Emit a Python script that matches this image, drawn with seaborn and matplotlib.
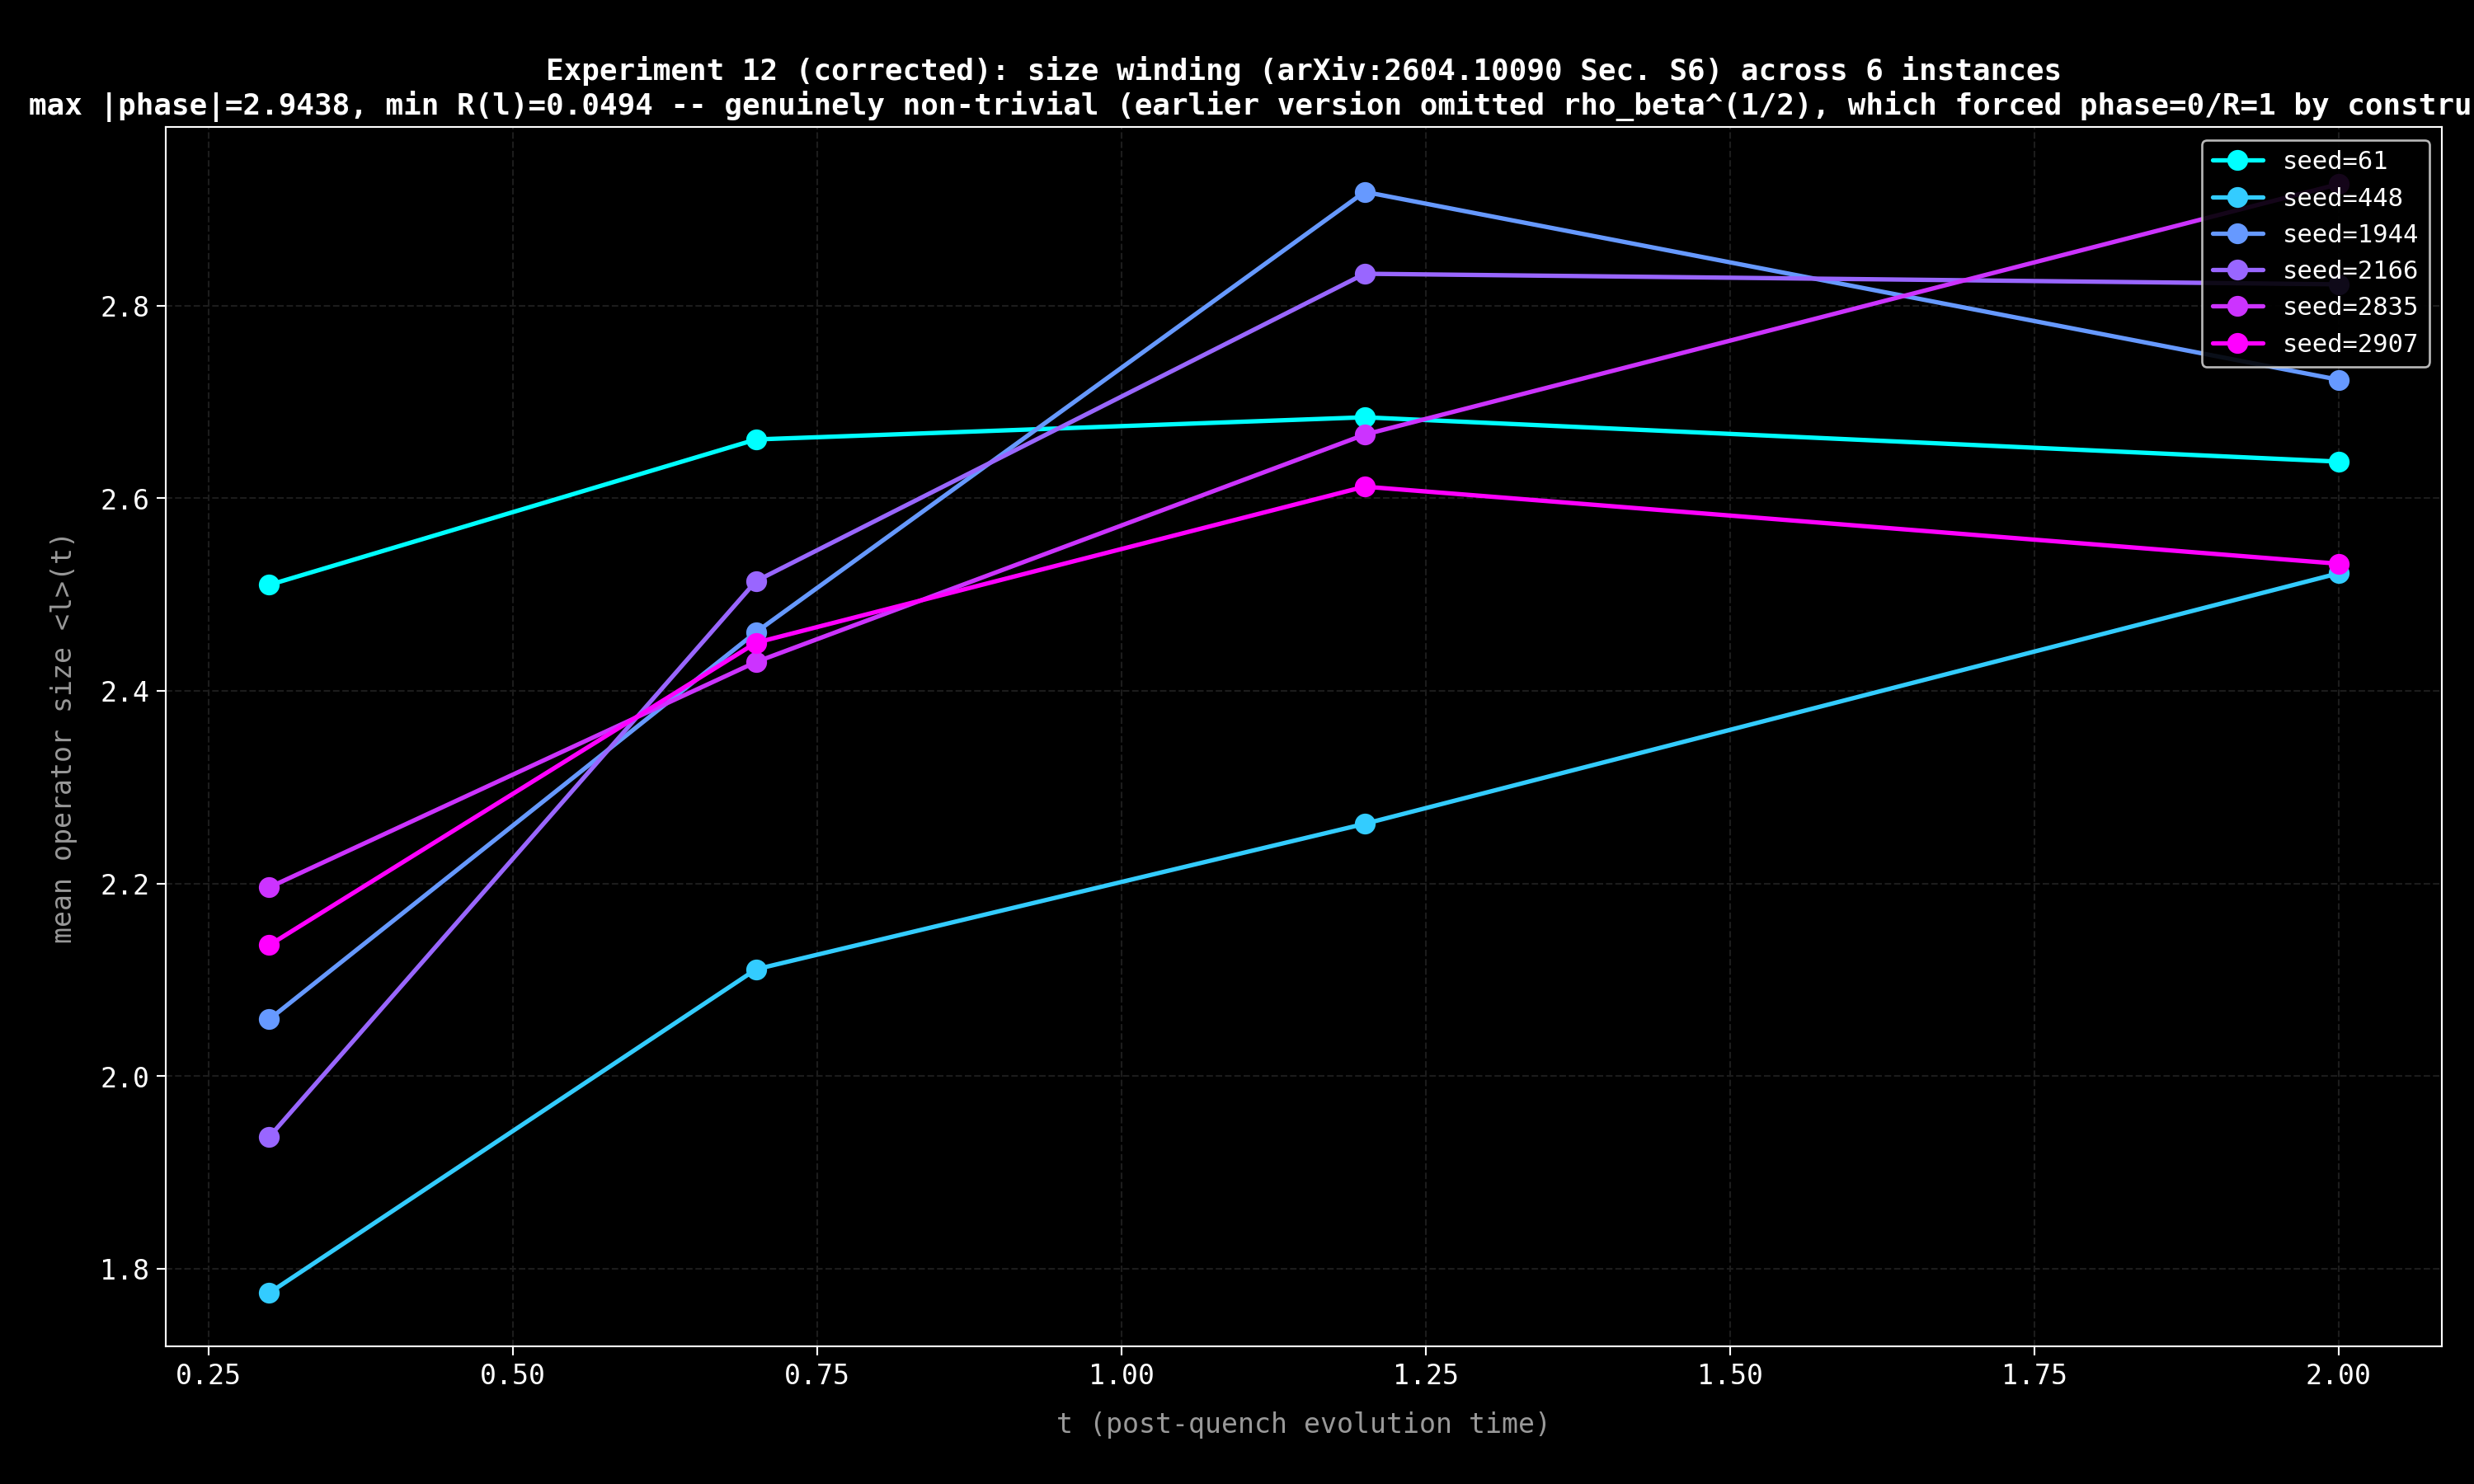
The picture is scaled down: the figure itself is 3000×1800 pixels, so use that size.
import matplotlib.pyplot as plt
import seaborn as sns
import pandas as pd
import numpy as np

t_vals = [0.3, 0.7, 1.2, 2.0]
seeds = [61, 448, 1944, 2166, 2835, 2907]
size_61 = [2.510, 2.661, 2.684, 2.638]
size_448 = [1.775, 2.111, 2.262, 2.522]
size_1944 = [2.059, 2.461, 2.918, 2.723]
size_2166 = [1.937, 2.514, 2.833, 2.822]
size_2835 = [2.196, 2.430, 2.666, 2.926]
size_2907 = [2.136, 2.450, 2.612, 2.532]
all_sizes = [size_61, size_448, size_1944, size_2166, size_2835, size_2907]

rows = []
for s, vals in zip(seeds, all_sizes):
    for t, v in zip(t_vals, vals):
        rows.append({"t": t, "size": v, "seed": f"seed={s}"})
frame = pd.DataFrame(rows)

sns.set_style("dark")
plt.rcParams['font.family'] = ['DejaVu Sans Mono']
plt.rcParams['text.color'] = 'white'

fig, ax = plt.subplots(figsize=(15.68, 9.41), dpi=191.33)
fig.patch.set_facecolor('black')
ax.set_facecolor('black')

cmap = plt.get_cmap("cool")
palette = [cmap(v) for v in np.linspace(0, 1, 6)]
for i, s in enumerate(seeds):
    sub = frame[frame.seed == f"seed={s}"]
    ax.plot(sub.t, sub["size"], marker='o', markersize=8.5, linewidth=2,
            color=palette[i], label=f"seed={s}")

ax.grid(True, color='#1c1c1c', linestyle='--', linewidth=0.8)
for sp in ax.spines.values():
    sp.set_color('white')
    sp.set_visible(True)
ax.tick_params(colors='white', labelsize=12.5, length=4, bottom=True, left=True)
ax.set_xticks([0.25, 0.5, 0.75, 1.0, 1.25, 1.5, 1.75, 2.0])
ax.set_yticks([1.8, 2.0, 2.2, 2.4, 2.6, 2.8])
ax.set_xlim(0.215, 2.085)
ax.set_ylim(1.72, 2.985)
ax.set_xlabel("t (post-quench evolution time)", color='#999999', fontsize=12.5, labelpad=10)
ax.set_ylabel("mean operator size <l>(t)", color='#999999', fontsize=12.5, labelpad=10)
ax.set_title("Experiment 12 (corrected): size winding (arXiv:2604.10090 Sec. S6) across 6 instances\n"
             "max |phase|=2.9438, min R(l)=0.0494 -- genuinely non-trivial (earlier version omitted "
             "rho_beta^(1/2), which forced phase=0/R=1 by construction)",
             color='white', fontsize=13.5, fontweight='bold')
leg = ax.legend(loc='upper right', fontsize=11.5, facecolor='black', edgecolor='#cccccc',
                labelcolor='white', framealpha=0.9)

fig.subplots_adjust(left=0.067, right=0.987, top=0.914, bottom=0.093)
fig.savefig("out.png", facecolor='black')
